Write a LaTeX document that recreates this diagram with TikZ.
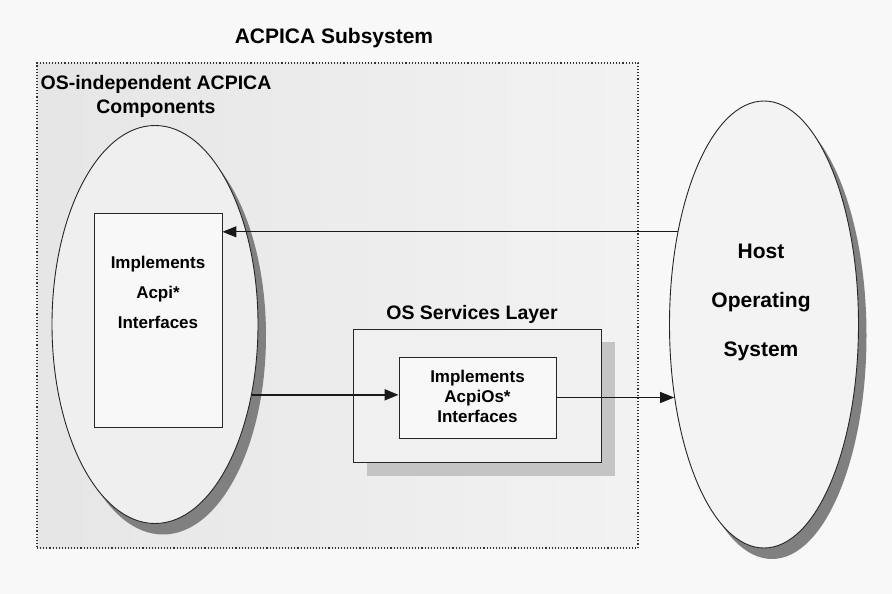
\documentclass[tikz,border=0pt]{standalone}
\usepackage{fontspec}
\setmainfont{Liberation Sans}
\usetikzlibrary{shapes.geometric,arrows.meta,shadows}
\definecolor{pagegray}{HTML}{F8F8F8}
\definecolor{ovalgray}{HTML}{EFEFEF}
\definecolor{hostgray}{HTML}{F3F3F3}
\definecolor{shadowdark}{HTML}{808080}
\definecolor{shadowlight}{HTML}{C4C4C4}
\tikzset{
  oval/.style={ellipse, draw=black!85, line width=0.9pt, inner sep=0pt,
    drop shadow={shadow xshift=8pt, shadow yshift=-11pt, fill=shadowdark, opacity=1}},
  plainbox/.style={rectangle, draw=black!85, line width=0.9pt, inner sep=0pt},
  biglbl/.style={font=\fontsize{21}{24}\selectfont\bfseries, align=center, inner sep=0pt},
  smalllbl/.style={font=\fontsize{17}{30}\selectfont\bfseries, align=center, inner sep=0pt},
  arr/.style={-{Triangle[length=14pt,width=11pt]}, black!90}
}
\begin{document}
\begin{tikzpicture}[x=1pt,y=-1pt]
  % page background
  \fill[pagegray] (0,0) rectangle (892,594);
  % ACPICA subsystem frame
  \node[rectangle, draw=black!80, dotted, line width=1.1pt, left color=black!10, right color=black!5,
    minimum width=601pt, minimum height=485pt] (subsys) at (337.5,305.5) {};
  \node[biglbl] (subsyslbl) at (334,38) {ACPICA Subsystem};
  \node[font=\fontsize{19.5}{24}\selectfont\bfseries, align=center, inner sep=0pt] (complbl) at (156,96)
    {OS-independent ACPICA\\Components};
  % OS-independent components
  \node[oval, fill=ovalgray, minimum width=206pt, minimum height=398pt] (acpica) at (155,324.5) {};
  \node[plainbox, fill=pagegray, minimum width=128pt, minimum height=214pt] (acpibox) at (158,320) {};
  \node[smalllbl] (acpilbl) at (158,292) {Implements\\Acpi*\\Interfaces};
  % OS services layer
  \fill[shadowlight] (367,342) rectangle (615,476);
  \node[plainbox, fill=black!6, minimum width=248pt, minimum height=133pt] (osl) at (477,395.5) {};
  \node[font=\fontsize{19.5}{24}\selectfont\bfseries, inner sep=0pt] (osllbl) at (472,314) {OS Services Layer};
  \node[plainbox, fill=pagegray, minimum width=157pt, minimum height=81pt] (osinner) at (477.5,397.5) {};
  \node[font=\fontsize{17}{20}\selectfont\bfseries, align=center, inner sep=0pt] (oslbl) at (477.5,396)
    {Implements\\AcpiOs*\\Interfaces};
  % host operating system
  \node[oval, fill=hostgray, minimum width=189pt, minimum height=447pt] (host) at (764,324.5) {};
  \node[font=\fontsize{21}{49}\selectfont\bfseries, align=center, inner sep=0pt] (hostlbl) at (761,302)
    {Host\\Operating\\System};
  % calls
  \draw[arr, line width=1.3pt] (host.133.3) -- (acpibox.east |- host.133.3);
  \draw[arr, line width=2pt] (acpica.-36.2) -- (osinner.west |- acpica.-36.2);
  \draw[arr, line width=1pt] (osinner.east) -- (osinner.east -| host.219.1);
\end{tikzpicture}
\end{document}
